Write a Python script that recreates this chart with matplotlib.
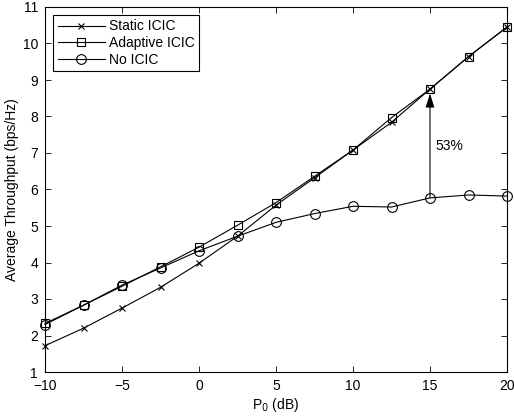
import numpy as np
import matplotlib.pyplot as plt

plt.rcParams['font.family'] = ['Liberation Sans', 'DejaVu Sans']
plt.rcParams['font.size'] = 10

p0 = [-10, -7.5, -5, -2.5, 0, 2.5, 5, 7.5, 10, 12.5, 15, 17.5, 20]
static_icic = [1.72, 2.20, 2.75, 3.32, 3.98, 4.72, 5.57, 6.32, 7.08, 7.84, 8.75, 9.64, 10.45]
adaptive_icic = [2.33, 2.83, 3.35, 3.88, 4.42, 5.02, 5.64, 6.36, 7.08, 7.97, 8.75, 9.64, 10.45]
no_icic = [2.30, 2.83, 3.38, 3.85, 4.32, 4.72, 5.10, 5.34, 5.54, 5.52, 5.77, 5.85, 5.82]

fig = plt.figure(figsize=(5.14, 4.19), dpi=100)
ax = fig.add_axes([45/514, 1 - 372/419, 462/514, 365/419])

ax.plot(p0, static_icic, 'k-', marker='x', ms=5, mew=0.8, lw=0.8,
        clip_on=False, zorder=3, label='Static ICIC')
ax.plot(p0, adaptive_icic, 'k-', marker='s', ms=6, mew=0.8, lw=0.8,
        mfc='none', clip_on=False, zorder=3, label='Adaptive ICIC')
ax.plot(p0, no_icic, 'k-', marker='o', ms=7, mew=0.8, lw=0.8,
        mfc='none', clip_on=False, zorder=3, label='No ICIC')

# gain arrow at P0 = 15 dB
ax.annotate('', xy=(15, adaptive_icic[10] - 0.12), xytext=(15, no_icic[10]),
            arrowprops=dict(arrowstyle='-|>,head_length=0.7,head_width=0.22',
                            color='k', lw=0.8, mutation_scale=12,
                            shrinkA=0, shrinkB=0))
ax.text(15.35, 7.2, '53%', va='center', ha='left')

ax.set_xlim(-10, 20)
ax.set_ylim(1, 11)
ax.set_xticks(np.arange(-10, 21, 5))
ax.set_yticks(np.arange(1, 12, 1))
ax.tick_params(direction='in', top=True, right=True, length=4, width=0.6)
ax.tick_params(axis='x', pad=5)
ax.tick_params(axis='y', pad=5)
for s in ax.spines.values():
    s.set_linewidth(0.8)
ax.set_xlabel('P$_0$ (dB)', labelpad=2)
ax.set_ylabel('Average Throughput (bps/Hz)', labelpad=3)

leg = ax.legend(loc='upper left', fancybox=False, edgecolor='k',
                framealpha=1, borderaxespad=0.6, handlelength=3.4,
                labelspacing=0.2, borderpad=0.3, handletextpad=0.3)
leg.get_frame().set_linewidth(0.8)

fig.savefig('out.png', dpi=100)
